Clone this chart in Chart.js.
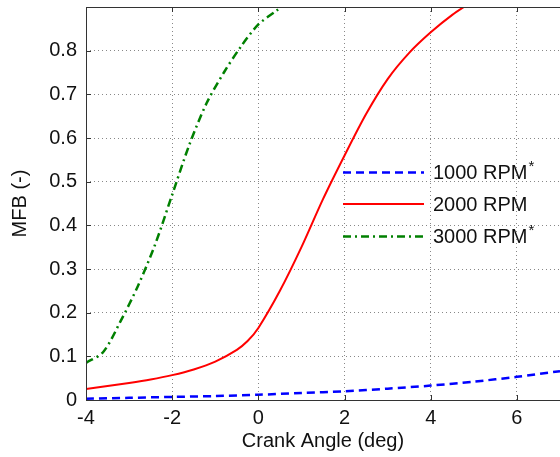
<!DOCTYPE html>
<html>
<head>
<meta charset="utf-8">
<script src="https://cdn.jsdelivr.net/npm/chart.js@4.4.1/dist/chart.umd.min.js"></script>
<style>
  html, body { margin: 0; padding: 0; background: #fff; }
  #wrap { width: 560px; height: 457px; position: relative; }
</style>
</head>
<body>
<div id="wrap"><canvas id="mfbChart"></canvas></div>
<script>
// data
var angle1000 = [-4, -3, -2, -1, 0, 1, 2, 3, 4, 5, 6, 7];
var mfb1000 = [0.003, 0.005, 0.007, 0.009, 0.012, 0.016, 0.020, 0.026, 0.033, 0.042, 0.053, 0.066];

var angle2000 = [-4, -3.5, -3, -2.5, -2, -1.5, -1, -0.5, -0.25, 0, 0.5, 1, 1.5, 2, 2.5, 3, 3.5, 4, 4.5, 5];
var mfb2000 = [0.025, 0.032, 0.039, 0.047, 0.057, 0.070, 0.088, 0.115, 0.135, 0.165, 0.25, 0.35, 0.46, 0.56, 0.655, 0.735, 0.795, 0.842, 0.882, 0.915];

var angle3000 = [-4, -3.6, -3.2, -2.8, -2.4, -2.0, -1.6, -1.2, -0.8, -0.4, 0, 0.4, 0.8];
var mfb3000 = [0.085, 0.11, 0.18, 0.26, 0.355, 0.47, 0.585, 0.68, 0.75, 0.81, 0.86, 0.89, 0.92];

var seriesNames = ['1000 RPM', '2000 RPM', '3000 RPM'];
var starred = [true, false, true];

function pts(xs, ys){
    return xs.map(function(x, i){ return {x: x, y: ys[i]}; });
}

var FONT = 'Liberation Sans, Arial, sans-serif';

// frame, inward ticks and legend inside the plot
var extras = {
    id: 'extras',
    afterDraw: function(chart){
        var ctx = chart.ctx, a = chart.chartArea;
        var xs = chart.scales.x, ys = chart.scales.y;
        ctx.save();
        ctx.strokeStyle = '#333';
        ctx.lineWidth = 1;
        ctx.strokeRect(a.left + 0.5, a.top + 0.5, a.right - a.left, a.bottom - a.top);
        ctx.beginPath();
        xs.ticks.forEach(function(t){
            var px = Math.round(xs.getPixelForValue(t.value)) + 0.5;
            ctx.moveTo(px, a.bottom); ctx.lineTo(px, a.bottom - 5);
            ctx.moveTo(px, a.top); ctx.lineTo(px, a.top + 5);
        });
        ys.ticks.forEach(function(t){
            var py = Math.round(ys.getPixelForValue(t.value)) + 0.5;
            ctx.moveTo(a.left, py); ctx.lineTo(a.left + 5, py);
        });
        ctx.stroke();

        // legend
        var rowY = [172.5, 204, 236.5];
        chart.data.datasets.forEach(function(ds, i){
            ctx.strokeStyle = ds.borderColor;
            ctx.lineWidth = ds.borderWidth;
            ctx.setLineDash(ds.borderDash || []);
            ctx.beginPath();
            ctx.moveTo(343, rowY[i]); ctx.lineTo(424, rowY[i]);
            ctx.stroke();
            ctx.setLineDash([]);
            ctx.fillStyle = '#111';
            ctx.font = '20px ' + FONT;
            ctx.textBaseline = 'middle';
            ctx.textAlign = 'left';
            ctx.fillText(seriesNames[i], 433, rowY[i] + 1);
            if (starred[i]) {
                var w = ctx.measureText(seriesNames[i]).width;
                ctx.font = '15px ' + FONT;
                ctx.fillText('*', 433 + w + 1, rowY[i] - 6);
            }
        });
        ctx.restore();
    }
};

var ctx = document.getElementById('mfbChart');
var mfbChart = new Chart(ctx, {
    type: 'line',
    data: {
        datasets: [{
            label: seriesNames[0],
            data: pts(angle1000, mfb1000),
            borderColor: '#0000ff',
            borderWidth: 2.5,
            borderDash: [8, 5]
        }, {
            label: seriesNames[1],
            data: pts(angle2000, mfb2000),
            borderColor: '#ff0000',
            borderWidth: 2
        }, {
            label: seriesNames[2],
            data: pts(angle3000, mfb3000),
            borderColor: '#008000',
            borderWidth: 2.5,
            borderDash: [8, 4, 2, 4]
        }]
    },
    options: {
        responsive: true,
        maintainAspectRatio: false,
        animation: false,
        layout: { padding: { top: 7, right: 0, left: 0, bottom: 0 } },
        elements: { point: { radius: 0 }, line: { tension: 0.3, fill: false } },
        plugins: { legend: { display: false }, tooltip: { enabled: false } },
        scales: {
            x: {
                type: 'linear',
                min: -4, max: 7,
                afterFit: function(s){ s.height = 57; s.paddingLeft = 0; s.paddingRight = 0; },
                ticks: { stepSize: 2, includeBounds: false, padding: 6, color: '#111', font: { family: FONT, size: 20 } },
                grid: { color: '#888', lineWidth: 1, drawTicks: false },
                border: { display: false, dash: [1, 3] },
                title: { display: true, text: 'Crank Angle (deg)', color: '#111', font: { family: FONT, size: 20 }, padding: { top: 0, bottom: 4 } }
            },
            y: {
                min: 0, max: 0.9,
                afterFit: function(s){ s.width = 86; s.paddingTop = 0; s.paddingBottom = 0; },
                ticks: {
                    stepSize: 0.1, includeBounds: false, padding: 9, color: '#111',
                    font: { family: FONT, size: 20 },
                    callback: function(v){ return v > 0.85 ? '' : Math.round(v * 10) / 10; }
                },
                grid: { color: '#888', lineWidth: 1, drawTicks: false },
                border: { display: false, dash: [1, 3] },
                title: { display: true, text: 'MFB (-)', color: '#111', font: { family: FONT, size: 20 }, padding: { top: 8, bottom: 0 } }
            }
        }
    },
    plugins: [extras]
});
</script>
</body>
</html>
